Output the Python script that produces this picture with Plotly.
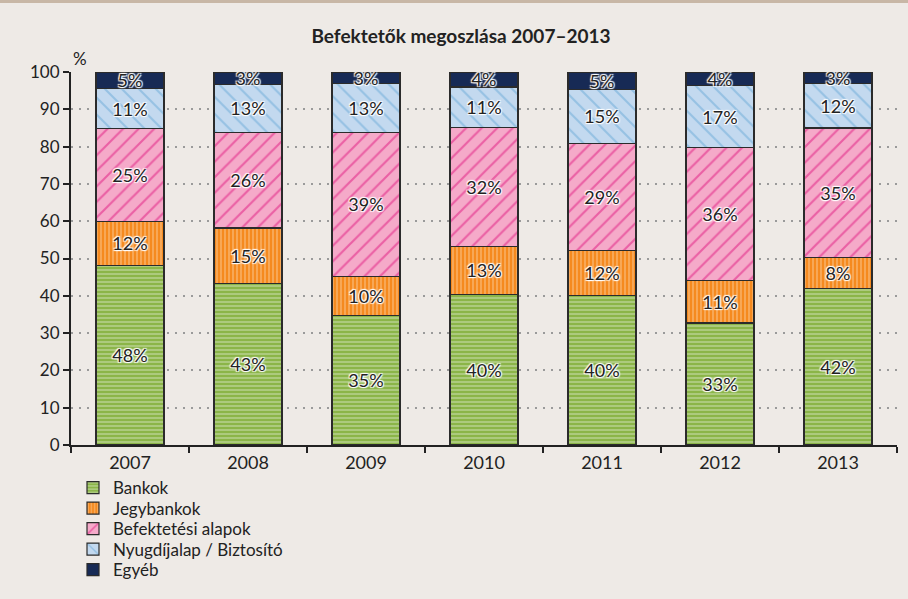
import plotly.graph_objects as go

years = ["2007", "2008", "2009", "2010", "2011", "2012", "2013"]
bankok = [48.2, 43.4, 34.8, 40.3, 40.1, 32.7, 42.0]
jegybankok = [11.8, 14.8, 10.4, 13.0, 12.0, 11.4, 8.2]
befektetesi = [24.8, 25.6, 38.6, 31.8, 28.7, 35.6, 34.8]
nyugdij = [10.7, 12.9, 13.2, 10.9, 14.6, 16.7, 12.0]
egyeb = [4.5, 3.3, 3.0, 4.0, 4.6, 3.6, 3.0]
y_ticks = [0, 10, 20, 30, 40, 50, 60, 70, 80, 90, 100]

series = [
    ("Bankok", bankok, dict(shape="-", bgcolor="#8bb548", fgcolor="#d6e6bd", size=4, solidity=0.45)),
    ("Jegybankok", jegybankok, dict(shape="|", bgcolor="#f58a1f", fgcolor="#fbd3a8", size=4, solidity=0.4)),
    ("Befektetési alapok", befektetesi, dict(shape="/", bgcolor="#f5aac9", fgcolor="#e0167f", size=11, solidity=0.2)),
    ("Nyugdíjalap / Biztosító", nyugdij, dict(shape="\\", bgcolor="#c3d9ef", fgcolor="#6aaad8", size=12, solidity=0.18)),
    ("Egyéb", egyeb, None),
]

FONT = "Lato, Open Sans, sans-serif"
W, H = 908, 599

fig = go.Figure()
legend_layouts = {}
for i, (name, vals, pat) in enumerate(series):
    marker = dict(line=dict(color="#2b2b2b", width=1.2))
    if pat is None:
        marker["color"] = "#172a55"
    else:
        marker["color"] = pat["bgcolor"]
        marker["pattern"] = dict(shape=pat["shape"], bgcolor=pat["bgcolor"], fgcolor=pat["fgcolor"],
                                 size=pat["size"], solidity=pat["solidity"], fillmode="overlay")
    lname = "legend" if i == 0 else f"legend{i + 1}"
    fig.add_trace(go.Bar(
        x=years, y=vals, name=name, marker=marker, legend=lname,
        texttemplate="%{y:.0f}%", textposition="inside", insidetextanchor="middle",
        textangle=0,
        textfont=dict(family=FONT, size=18, color="#222222",
                      shadow="1px 1px 1px white, -1px -1px 1px white, 1px -1px 1px white, -1px 1px 1px white"),
        hoverinfo="skip",
    ))
    legend_layouts[lname] = dict(
        xref="container", yref="container", x=73 / W, xanchor="left",
        y=1 - (488 + 20.5 * i) / H, yanchor="middle",
        font=dict(family=FONT, size=17, color="#222222"),
        bgcolor="rgba(0,0,0,0)", borderwidth=0, itemwidth=30,
    )

fig.update_layout(
    barmode="stack",
    bargap=0.424,
    width=W, height=H,
    paper_bgcolor="#eeeae6", plot_bgcolor="#eeeae6",
    margin=dict(l=71, r=11, t=72, b=154, autoexpand=False),
    font=dict(family=FONT, color="#222222"),
    uniformtext=dict(minsize=18, mode="show"),
    title=dict(text="<b>Befektetők megoszlása 2007–2013</b>", x=461 / W, xref="container",
               y=1 - 36 / H, yref="container", yanchor="middle", xanchor="center",
               font=dict(family=FONT, size=19, color="#222222")),
    showlegend=True,
    **legend_layouts,
)

fig.update_yaxes(
    range=[0, 100], tickvals=y_ticks, ticks="outside", ticklen=6, tickwidth=2, tickcolor="#222",
    showline=True, linecolor="#222", linewidth=2,
    showgrid=True, gridcolor="#9a9a9a", griddash="2px,6px", gridwidth=1.5,
    tickfont=dict(family=FONT, size=17, color="#222"), zeroline=False, fixedrange=True,
)
fig.update_xaxes(
    type="category", tickson="boundaries", ticks="outside", ticklen=6, tickwidth=2, tickcolor="#222",
    showline=True, linecolor="#222", linewidth=2, showgrid=False,
    tickfont=dict(family=FONT, size=18, color="#222"), fixedrange=True,
)

fig.add_annotation(text="%", xref="paper", yref="paper", x=0.0, y=1.0375, xanchor="left", yanchor="middle",
                   showarrow=False, font=dict(family=FONT, size=17, color="#222"))
fig.add_shape(type="rect", xref="paper", yref="paper", x0=-0.1, x1=1.1,
              y0=(445 - 3) / 373, y1=(445 + 2) / 373, fillcolor="#c8b7a6", line=dict(width=0), layer="above")

fig.write_html("out.html", config={"displayModeBar": False},
               post_script="document.body.style.margin='0';")
